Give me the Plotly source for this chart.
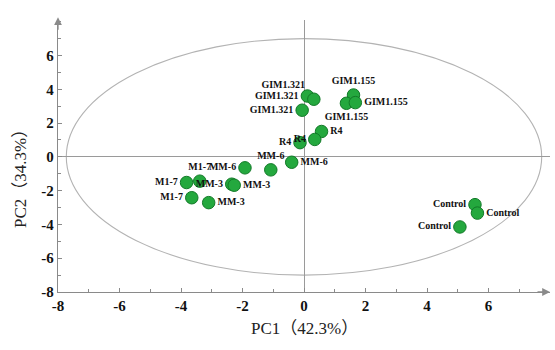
import plotly.graph_objects as go

# ---- data ----
sample_labels = [
    "GIM1.321", "GIM1.321", "GIM1.321",
    "GIM1.155", "GIM1.155", "GIM1.155",
    "R4", "R4", "R4",
    "MM-6", "MM-6", "MM-6",
    "M1-7", "M1-7", "M1-7",
    "MM-3", "MM-3", "MM-3",
    "Control", "Control", "Control",
]
pc1 = [0.11, 0.32, -0.06,
       1.61, 1.38, 1.67,
       0.57, 0.35, -0.13,
       -1.92, -1.08, -0.40,
       -3.82, -3.39, -3.65,
       -2.35, -2.27, -3.10,
       5.56, 5.64, 5.07]
pc2 = [3.60, 3.41, 2.76,
       3.66, 3.17, 3.21,
       1.50, 1.03, 0.84,
       -0.65, -0.77, -0.32,
       -1.52, -1.44, -2.42,
       -1.62, -1.68, -2.71,
       -2.83, -3.33, -4.15]
x_ticks = [-8, -6, -4, -2, 0, 2, 4, 6]
y_ticks = [-8, -6, -4, -2, 0, 2, 4, 6]
ellipse_a = 7.73   # semi-axis along PC1
ellipse_b = 7.0    # semi-axis along PC2
x_title = "PC1（42.3%）"
y_title = "PC2（34.3%）"

# label placement (style)
label_pos = [
    "middle left", "top left", "middle left",
    "top center", "bottom center", "middle right",
    "middle right", "middle left", "middle left",
    "middle left", "top center", "middle right",
    "middle left", "top center", "middle left",
    "middle left", "middle right", "middle right",
    "middle left", "middle right", "middle left",
]

serif = "Liberation Serif, Times New Roman, Noto Sans CJK SC, serif"
axis_gray = "#8a8a8a"

fig = go.Figure()

fig.add_shape(type="circle", xref="x", yref="y",
              x0=-ellipse_a, x1=ellipse_a, y0=-ellipse_b, y1=ellipse_b,
              line=dict(color="#b3b3b3", width=1.1), layer="below")

fig.add_trace(go.Scatter(
    x=pc1, y=pc2, mode="markers+text",
    text=[f"<b>{t}</b>" for t in sample_labels],
    textposition=label_pos,
    textfont=dict(family=serif, size=10, color="#111111"),
    marker=dict(size=12.5, color="#24a83e", line=dict(color="#127a28", width=1)),
    cliponaxis=False, showlegend=False, hoverinfo="skip",
))

tickfont = dict(family=serif, size=15, color="#111111")
fig.update_xaxes(
    range=[-8, 8], tickvals=x_ticks, ticktext=[f"<b>{v}</b>" for v in x_ticks],
    tickfont=tickfont, ticks="inside", ticklen=4, tickcolor=axis_gray,
    minor=dict(dtick=1, ticks="inside", ticklen=2.5, tickcolor=axis_gray),
    showline=True, linecolor=axis_gray, linewidth=1.3,
    showgrid=False, zeroline=True, zerolinecolor="#9a9a9a", zerolinewidth=1,
    automargin=False,
)
fig.update_yaxes(
    range=[-8, 8.1], tickvals=y_ticks, ticktext=[f"<b>{v}</b>" for v in y_ticks],
    tickfont=tickfont, ticks="inside", ticklen=4, tickcolor=axis_gray,
    minor=dict(dtick=1, ticks="inside", ticklen=2.5, tickcolor=axis_gray),
    showline=True, linecolor=axis_gray, linewidth=1.3,
    showgrid=False, zeroline=True, zerolinecolor="#9a9a9a", zerolinewidth=1,
    automargin=False,
)

# axis titles
fig.add_annotation(xref="paper", yref="paper", x=0.5, y=0, yshift=-36,
                   yanchor="middle", xanchor="center", showarrow=False,
                   text=x_title, font=dict(family=serif, size=17, color="#222"))
fig.add_annotation(xref="paper", yref="paper", x=0, y=0.5, xshift=-38,
                   yshift=-19, textangle=-90, xanchor="center", yanchor="middle",
                   showarrow=False,
                   text=y_title, font=dict(family=serif, size=17, color="#222"))

# axis arrows
fig.add_annotation(xref="paper", yref="paper", x=1.0, y=0, ax=-14, ay=0,
                   showarrow=True, arrowhead=2, arrowsize=1.2, arrowwidth=1.3,
                   arrowcolor=axis_gray, text="")
fig.add_annotation(xref="paper", yref="paper", x=0, y=1.01, ax=0, ay=14,
                   showarrow=True, arrowhead=2, arrowsize=1.2, arrowwidth=1.3,
                   arrowcolor=axis_gray, text="")

fig.update_layout(
    width=555, height=350,
    margin=dict(l=58, r=5, t=20, b=58),
    paper_bgcolor="white", plot_bgcolor="white",
    hovermode=False,
)

fig.write_html("out.html", config={"displayModeBar": False},
               post_script="document.body.style.margin='0';document.body.style.padding='0';")
